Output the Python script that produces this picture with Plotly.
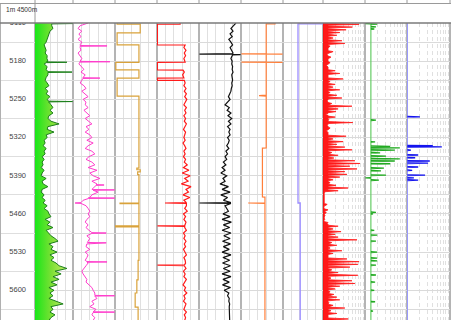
import numpy as np
import plotly.graph_objects as go

W, H = 451, 320
TOP = 23                      # pixel row where the log body starts
PX_PER_M = 0.5455
D_TOP = 5110
D_BOT = D_TOP + (H - TOP) / PX_PER_M

# ---------------- data ----------------
depth5 = np.arange(5110, 5656, 5)

gr_vals = [66, 66, 71, 59, 55, 51, 48, 44, 36, 40,
           44, 40, 48, 47, 51, 36, 48, 44, 51, 51,
           44, 40, 48, 55, 40, 51, 44, 59, 48, 55,
           63, 71, 59, 71, 55, 51, 63, 95, 51, 48,
           75, 44, 48, 36, 40, 32, 44, 36, 40, 28,
           36, 28, 32, 24, 36, 28, 24, 44, 28, 32,
           51, 28, 24, 36, 28, 40, 32, 48, 36, 51,
           55, 63, 40, 59, 48, 71, 44, 55, 63, 79,
           91, 55, 71, 63, 87, 59, 75, 63, 83, 95,
           126, 79, 103, 71, 95, 63, 87, 55, 75, 59,
           71, 55, 87, 111, 63, 71, 59, 79, 63, 55]
gr_spikes = [(5111, 149), (5182, 126), (5200, 146), (5254, 148)]

pink_vals = [36, 17, 12, 21, 14, 19, 12, 21, 17, 17,
             19, 12, 17, 21, 17, 14, 21, 26, 19, 29,
             24, 21, 17, 26, 31, 21, 29, 36, 24, 31,
             29, 36, 26, 33, 40, 29, 36, 45, 31, 38,
             29, 40, 45, 33, 48, 36, 29, 45, 52, 38,
             31, 45, 52, 36, 57, 40, 48, 64, 45, 57,
             52, 45, 60, 45, 40, 24, 19, 31, 36, 40,
             36, 40, 33, 29, 36, 31, 38, 45, 33, 40,
             36, 33, 31, 40, 29, 36, 33, 29, 36, 31,
             26, 21, 24, 29, 33, 31, 38, 45, 48, 52,
             52, 57, 45, 50, 40, 55, 48, 45, 52, 48]
pink_spikes = [(5152, 81), (5181, 88), (5211, 64), (5407, 74), (5416, 99),
               (5431, 99), (5440, 5), (5495, 79), (5513, 79), (5548, 81),
               (5610, 99), (5640, 99)]

gold_depth = [5110, 5112, 5128, 5150, 5182, 5196, 5211, 5244, 5376, 5379,
              5383, 5388, 5440, 5441, 5482, 5484, 5545, 5581, 5605, 5631, 5655]
gold_vals = [5, 60, 5, 57, 2, 57, 5, 57, 52, 60,
             54, 57, 12, 57, 1, 57, 55, 52, 48, 55, 55]

red_top_depth = [5110, 5112, 5112.3, 5150, 5150.3, 5155, 5160, 5165, 5170, 5175,
                 5181.7, 5182, 5196, 5196.3, 5200, 5205, 5210.7, 5211, 5215, 5215.3]
red_top_vals = [55, 55, 1, 1, 67, 64, 69, 65, 68, 64,
                67, 1, 1, 62, 65, 61, 64, 1, 1, 65]
red_depth = np.arange(5220, 5656, 5)
red_vals = [67, 64, 69, 65, 70, 66, 71, 67, 64, 70,
            66, 69, 64, 68, 65, 70, 67, 63, 68, 66,
            64, 67, 62, 66, 69, 64, 67, 63, 68, 65,
            72, 63, 76, 60, 79, 66, 74, 58, 81, 69,
            75, 62, 78, 64, 70, 70, 66, 72, 63, 68,
            64, 69, 66, 66, 70, 63, 67, 64, 69, 65,
            68, 63, 66, 70, 64, 67, 68, 65, 69, 63,
            67, 64, 70, 66, 62, 68, 65, 71, 64, 67,
            63, 69, 66, 64, 70, 65, 68, 66]
red_spikes = [(5440, 19), (5482, 1), (5554, 1)]

black_vals = [88, 83, 76, 81, 74, 79, 71, 76, 80, 74,
              78, 81, 79, 76, 79, 78, 80, 79, 81, 78,
              79, 80, 78, 79, 77, 76, 73, 70, 74, 68,
              62, 72, 67, 76, 69, 78, 70, 76, 68, 74,
              71, 74, 68, 72, 70, 66, 71, 64, 68, 62,
              66, 58, 64, 55, 62, 52, 66, 57, 62, 50,
              70, 55, 74, 52, 68, 58, 76, 62, 66, 70,
              57, 74, 55, 77, 58, 73, 55, 76, 59, 74,
              56, 75, 58, 72, 55, 76, 57, 73, 56, 75,
              58, 74, 55, 76, 57, 72, 56, 75, 60, 71,
              68, 72, 71, 73, 72, 72, 73, 72, 72, 73]
black_spikes = [(5167, 1), (5168, 99), (5440, 1)]

orange_depth = [5110, 5111.5, 5111.5, 5166.5, 5166.7, 5167, 5167.3, 5181.5, 5181.7, 5182,
                5182.3, 5242, 5243, 5244, 5339, 5339.3, 5429, 5429.3, 5439.5, 5440,
                5440.5, 5655]
orange_vals = [81, 81, 60, 60, 1, 99, 60, 60, 1, 99,
               60, 60, 43, 60, 60, 51, 51, 57, 57, 17,
               57, 57]

purple_depth = [5110, 5111.5, 5111.5, 5440, 5440, 5655]
purple_vals = [99, 99, 37.5, 37.5, 43, 43]

# red bar track: floor level and bar tips (one bar every 5 m)
bars_floor_depth = [5110, 5415, 5418, 5472, 5476, 5655]
bars_floor_vals = [12, 12, 3, 3, 12, 12]
bars_vals = [86, 70, 55, 40, 33, 24, 45, 52, 17, 12,
             24, 10, 19, 12, 17, 8, 12, 29, 40, 12,
             48, 17, 29, 24, 40, 17, 33, 45, 10, 21,
             69, 36, 31, 5, 29, 14, 71, 10, 17, 8,
             12, 55, 24, 48, 33, 52, 69, 21, 36, 26,
             76, 88, 64, 81, 52, 57, 40, 24, 17, 31,
             60, 36, 3, 2, 2, 2, 10, 2, 12, 8,
             5, 3, 2, 10, 36, 24, 43, 29, 36, 81,
             21, 33, 17, 45, 24, 12, 57, 86, 83, 64,
             21, 36, 83, 19, 69, 76, 40, 29, 17, 26,
             33, 40, 14, 24, 52, 19, 33, 12, 60, 45]

green_base = 14
green_spikes = [(5111, 1), (5112, 29), (5117, 26), (5121, 22), (5288, 26), (5328, 24),
                (5336, 60), (5339, 83), (5343, 71), (5348, 36), (5354, 50), (5359, 83),
                (5363, 71), (5368, 60), (5376, 45), (5381, 38), (5389, 50), (5394, 1),
                (5398, 33), (5457, 26), (5460, 19), (5490, 22), (5499, 29), (5510, 26),
                (5530, 29), (5541, 29), (5546, 29), (5554, 26), (5572, 26), (5585, 24),
                (5600, 22), (5621, 24), (5638, 19)]

blue_base = 0.8
blue_spikes = [(5282, 30), (5335, 60), (5337, 81), (5343, 9), (5352, 26), (5357, 19),
               (5363, 53), (5367, 49), (5374, 26), (5380, 12), (5389, 42), (5394, 16),
               (5398, 26)]

depth_labels = [5110, 5180, 5250, 5320, 5390, 5460, 5530, 5600]
depth_minor = [5145, 5215, 5285, 5355, 5425, 5495, 5565, 5635]


# ---------------- helpers ----------------
def spiked(depths, vals, spikes, w=0.7):
    depths = [float(d) for d in depths]
    vals = [float(v) for v in vals]
    sd = [s[0] for s in spikes]
    pts = [(d, v) for d, v in zip(depths, vals) if all(abs(d - s) > w for s in sd)]
    for s, v in spikes:
        b = float(np.interp(s, depths, vals))
        pts += [(s - w, b), (s, v), (s + w, b)]
    pts.sort(key=lambda p: p[0])
    return [p[0] for p in pts], [p[1] for p in pts]


def spikes_only(spikes, base, w=0.7):
    xs, ys = [], []
    for s, v in spikes:
        xs += [base, v, base, None]
        ys += [s - w, s, s + w, None]
    return xs, ys


# ---------------- figure ----------------
tracks = [(35, 73), (73, 115), (115, 157), (157, 199), (199, 241),
          (241, 283), (283, 323), (323, 365), (365, 407), (407, 450)]
log_tracks = {8, 9, 10}

fig = go.Figure()

# track 1 : GR with gradient fill
d, v = spiked(depth5, gr_vals, gr_spikes)
fig.add_trace(go.Scatter(x=v, y=d, xaxis="x", yaxis="y", mode="lines",
                         line=dict(color="#1c7f1c", width=1), fill="tozerox",
                         fillgradient=dict(type="horizontal", start=0, stop=150,
                                           colorscale=[[0, "#19e619"], [0.45, "#7fe036"], [1, "#e4f27e"]])))

# track 2 : pink
d, v = spiked(depth5, pink_vals, pink_spikes)
fig.add_trace(go.Scatter(x=v, y=d, xaxis="x2", yaxis="y", mode="lines",
                         line=dict(color="#ff3ccc", width=1)))

# track 3 : gold step
fig.add_trace(go.Scatter(x=gold_vals, y=gold_depth, xaxis="x3", yaxis="y", mode="lines",
                         line=dict(color="#d9a23a", width=1.2, shape="vh")))

# track 4 : red
d, v = spiked(list(red_top_depth) + list(red_depth), red_top_vals + red_vals, red_spikes)
fig.add_trace(go.Scatter(x=v, y=d, xaxis="x4", yaxis="y", mode="lines",
                         line=dict(color="#ff1a1a", width=1.2)))

# track 5 : black
d, v = spiked(depth5, black_vals, black_spikes)
fig.add_trace(go.Scatter(x=v, y=d, xaxis="x5", yaxis="y", mode="lines",
                         line=dict(color="#111111", width=1.2)))

# track 6 : orange
fig.add_trace(go.Scatter(x=orange_vals, y=orange_depth, xaxis="x6", yaxis="y", mode="lines",
                         line=dict(color="#ff7f3a", width=1.2)))

# track 7 : lavender
fig.add_trace(go.Scatter(x=purple_vals, y=purple_depth, xaxis="x7", yaxis="y", mode="lines",
                         line=dict(color="#9b8cff", width=1.3)))

# track 8 : red bars
d, v = spiked(bars_floor_depth, bars_floor_vals, list(zip(depth5 + 2.5, bars_vals)), w=1.8)
fig.add_trace(go.Scatter(x=v, y=d, xaxis="x8", yaxis="y", mode="lines",
                         line=dict(color="#ff1a1a", width=0.8), fill="tozerox",
                         fillcolor="rgba(255,0,0,0.9)"))

# track 9 : green
fig.add_trace(go.Scatter(x=[green_base, green_base], y=[D_TOP, 5655], xaxis="x9", yaxis="y",
                         mode="lines", line=dict(color="#66cc66", width=1.2)))
gx, gy = spikes_only(green_spikes, green_base)
fig.add_trace(go.Scatter(x=gx, y=gy, xaxis="x9", yaxis="y", mode="lines",
                         line=dict(color="#22aa22", width=1.3)))

# track 10 : blue
fig.add_trace(go.Scatter(x=[blue_base, blue_base], y=[D_TOP, 5655], xaxis="x10", yaxis="y",
                         mode="lines", line=dict(color="#9a9aff", width=1.3)))
bx, by = spikes_only(blue_spikes, blue_base)
fig.add_trace(go.Scatter(x=bx, y=by, xaxis="x10", yaxis="y", mode="lines",
                         line=dict(color="#1414ee", width=1.3)))

# depth column labels (text trace, clipped to the log body)
fig.add_trace(go.Scatter(x=[26] * len(depth_labels), y=depth_labels, xaxis="x11", yaxis="y2",
                         mode="text", text=[str(t) for t in depth_labels],
                         textposition="middle left", cliponaxis=True, hoverinfo="skip",
                         textfont=dict(family="Liberation Sans", size=7.5, color="#444444")))

# ---------------- axes ----------------
lin_grid = [20, 40, 60, 80]
log_grid = [100 * np.log10(k) for k in range(2, 10)]
layout = {}
for i, (a, b) in enumerate(tracks, start=1):
    key = "xaxis" if i == 1 else f"xaxis{i}"
    rng = [0, 150] if i == 1 else [0, 100]
    tv = [30, 60, 90, 120] if i == 1 else (log_grid if i in log_tracks else lin_grid)
    layout[key] = dict(domain=[a / W, b / W], range=rng, anchor="y", tickvals=tv,
                       showticklabels=False, ticks="", showline=False, zeroline=False,
                       showgrid=True, gridcolor="#e0e0e0", gridwidth=1,
                       griddash="4px,3px" if i in log_tracks else "solid", fixedrange=True)
layout["xaxis11"] = dict(domain=[0, 35 / W], range=[0, 35], anchor="y2", showgrid=False,
                         showticklabels=False, ticks="", showline=False, zeroline=False,
                         fixedrange=True)
fig.update_layout(**layout)
fig.update_layout(
    width=W, height=H, margin=dict(l=0, r=0, t=0, b=0, pad=0),
    paper_bgcolor="white", plot_bgcolor="rgba(0,0,0,0)", showlegend=False,
    yaxis=dict(domain=[0, (H - TOP) / H], range=[D_BOT, D_TOP], anchor="x",
               tickvals=list(range(5145, 5655, 35)), showticklabels=False, ticks="",
               showgrid=True, gridcolor="#dadada", gridwidth=1, zeroline=False,
               showline=False, fixedrange=True),
    yaxis2=dict(domain=[0, (H - TOP) / H], range=[D_BOT, D_TOP], anchor="x11",
                tickvals=depth_minor, showticklabels=False, ticks="",
                showgrid=True, gridcolor="#dedede", gridwidth=1, zeroline=False,
                showline=False, fixedrange=True),
)


def py(y):
    return (H - y) / H


shapes = []
# track boundaries
for xb in [35, 73, 115, 157, 199, 241, 283, 323, 365, 407, 450]:
    shapes.append(dict(type="line", xref="paper", yref="paper", x0=xb / W, x1=xb / W,
                       y0=0, y1=py(TOP), line=dict(color="#8c8c8c", width=1.3), layer="below"))
    shapes.append(dict(type="line", xref="paper", yref="paper", x0=xb / W, x1=xb / W,
                       y0=py(3.5), y1=1, line=dict(color="#9a9a9a", width=1), layer="below"))
shapes.append(dict(type="line", xref="paper", yref="paper", x0=35 / W, x1=35 / W,
                   y0=py(TOP), y1=py(3.5), line=dict(color="#9a9a9a", width=1)))
shapes.append(dict(type="line", xref="paper", yref="paper", x0=0.5 / W, x1=0.5 / W,
                   y0=0, y1=py(3.5), line=dict(color="#b0b0b0", width=1)))
shapes.append(dict(type="line", xref="paper", yref="paper", x0=0, x1=1,
                   y0=py(3.5), y1=py(3.5), line=dict(color="#9a9a9a", width=1)))
shapes.append(dict(type="line", xref="paper", yref="paper", x0=0, x1=1,
                   y0=py(TOP), y1=py(TOP), line=dict(color="#7a7a7a", width=1.3)))
fig.update_layout(shapes=shapes)

fig.update_layout(annotations=[
    dict(xref="paper", yref="paper", x=4 / W, y=py(4.5), xanchor="left", yanchor="top",
         text="1m 4500m", showarrow=False,
         font=dict(family="Liberation Sans", size=6.6, color="#333333"))])

fig.write_html("out.html")
